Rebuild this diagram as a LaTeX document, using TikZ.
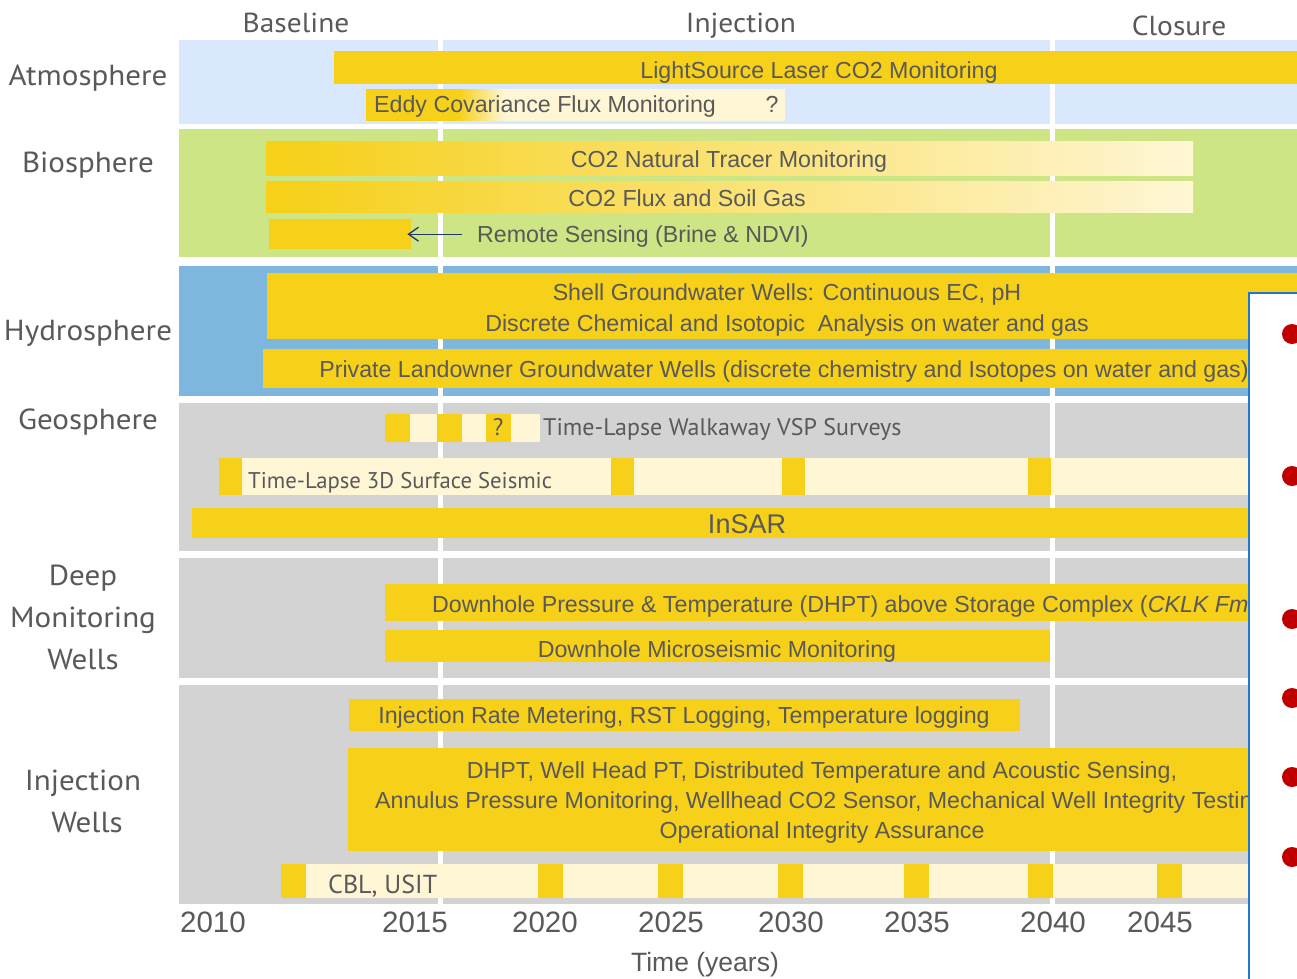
\documentclass[tikz,border=0pt]{standalone}
\usepackage{fontspec}
\setmainfont{Liberation Sans}
\newfontfamily\lab[FakeStretch=1.07]{PT Sans}
\newfontfamily\labn{PT Sans}
\usetikzlibrary{arrows.meta}
\definecolor{yel}{HTML}{F6D019}
\definecolor{cream}{HTML}{FFF6D5}
\definecolor{atm}{HTML}{D9E8FC}
\definecolor{bio}{HTML}{CDE585}
\definecolor{hyd}{HTML}{7FB6DE}
\definecolor{geo}{HTML}{D3D3D3}
\definecolor{txt}{HTML}{595959}
\definecolor{navy}{HTML}{1F3864}
\definecolor{boxblue}{HTML}{2277CC}
\definecolor{bul}{HTML}{C00000}
\pgfdeclarehorizontalshading{eddyshade}{100bp}{color(0bp)=(yel); color(36bp)=(yel); color(41.5bp)=(cream); color(100bp)=(cream)}
\pgfdeclarehorizontalshading{tracershade}{100bp}{color(0bp)=(yel); color(26bp)=(yel); color(75bp)=(cream); color(100bp)=(cream)}
\tikzset{
  bartxt/.style={font=\fontsize{23.2}{27}\selectfont, text=txt, inner sep=0pt},
  labtxt/.style={font=\lab\fontsize{29}{32}\selectfont, text=txt, inner sep=0pt, anchor=base},
  headtxt/.style={font=\lab\fontsize{27.5}{32}\selectfont, text=txt, inner sep=0pt, anchor=base},
  tltxt/.style={font=\labn\fontsize{24}{28}\selectfont, text=txt, inner sep=0pt, anchor=base west},
  axtxt/.style={font=\fontsize{29.5}{32}\selectfont, text=txt, inner sep=0pt, anchor=base},
  arrowline/.style={draw=navy, line width=1.3pt, -{Straight Barb[length=10pt,width=14pt]}},
}
\begin{document}
\begin{tikzpicture}[x=1pt,y=-1pt]
\useasboundingbox (0,0) rectangle (1297,978);
\clip (0,0) rectangle (1297,978);
\fill[white] (0,0) rectangle (1297,978);
% bands
\fill[atm] (179,40) rectangle (1297,124);
\fill[bio] (179,129) rectangle (1297,257);
\fill[hyd] (179,266) rectangle (1297,396);
\fill[geo] (179,403) rectangle (1297,551);
\fill[geo] (179,558) rectangle (1297,678);
\fill[geo] (179,685) rectangle (1297,904);
% phase dividers
\fill[white] (437.5,40) rectangle (442.5,905);
\fill[white] (1050,40) rectangle (1055,905);
% Atmosphere
\fill[yel] (334,51) rectangle (1297,84);
\shade[shading=eddyshade] (366,89) rectangle (785,120);
% Biosphere
\shade[shading=tracershade] (266,141) rectangle (1193,175);
\shade[shading=tracershade] (266,181) rectangle (1193,212);
\node[fill=yel, minimum width=142pt, minimum height=30pt, anchor=north west, inner sep=0pt] (rsbar) at (269,219) {};
% Hydrosphere
\fill[yel] (267,273) rectangle (1297,339);
\fill[yel] (263,349) rectangle (1297,388);
% Geosphere
\fill[cream] (385,414) rectangle (540,442);
\foreach \a in {385,437,486} \fill[yel] (\a,414) rectangle (\a+25,442);
\fill[cream] (219,458) rectangle (1297,495);
\foreach \a in {219,611,782,1028} \fill[yel] (\a,458) rectangle (\a+23,495);
\fill[yel] (192,508) rectangle (1297,538);
% Deep monitoring wells
\fill[yel] (385,584) rectangle (1297,621);
\fill[yel] (385,630) rectangle (1050,662);
% Injection wells
\fill[yel] (349,699) rectangle (1020,731);
\fill[yel] (348,748) rectangle (1297,851);
\fill[cream] (281,864) rectangle (1297,898);
\foreach \a in {281,538,658,778,904,1028,1157} \fill[yel] (\a,864) rectangle (\a+25,898);
% bar texts
\node[bartxt, anchor=base] (t1) at (819,78) {LightSource Laser CO2 Monitoring};
\node[bartxt, anchor=base west] (t2) at (374,112) {Eddy Covariance Flux Monitoring};
\node[bartxt, anchor=base] (t2q) at (772,112) {?};
\node[bartxt, anchor=base] (t3) at (729,167) {CO2 Natural Tracer Monitoring};
\node[bartxt, anchor=base] (t4) at (687,206) {CO2 Flux and Soil Gas};
\node[bartxt, anchor=base west] (rstxt) at (477,242) {Remote Sensing (Brine \& NDVI)};
\draw[arrowline, shorten <=15pt, shorten >=-4pt] (rstxt.west |- rsbar.east) -- (rsbar.east);
\node[bartxt, anchor=base] (t5a) at (787,300) {Shell Groundwater Wells: Continuous EC, pH};
\node[bartxt, anchor=base] (t5b) at (787,331) {Discrete Chemical and Isotopic\ \ Analysis on water and gas};
\node[bartxt, anchor=base] (t6) at (784,377) {Private Landowner Groundwater Wells (discrete chemistry and Isotopes on water and gas)};
\node[tltxt] (t7) at (543,435) {Time-Lapse Walkaway VSP Surveys};
\node[tltxt, anchor=base] (t7q) at (498,435) {?};
\node[tltxt, font=\labn\fontsize{22.7}{28}\selectfont] (t8) at (248,488) {Time-Lapse 3D Surface Seismic};
\node[bartxt, font=\fontsize{27}{30}\selectfont, anchor=base] (t9) at (747,533) {InSAR};
\node[bartxt, anchor=base west] (t10) at (432,612) {Downhole Pressure \& Temperature (DHPT) above Storage Complex (\textit{CKLK Fm})};
\node[bartxt, anchor=base] (t11) at (717,657) {Downhole Microseismic Monitoring};
\node[bartxt, anchor=base] (t12) at (684,723) {Injection Rate Metering, RST Logging, Temperature logging};
\node[bartxt, anchor=base] (t13a) at (822,778) {DHPT, Well Head PT, Distributed Temperature and Acoustic Sensing,};
\node[bartxt, anchor=base west] (t13b) at (375,808) {Annulus Pressure Monitoring, Wellhead CO2 Sensor, Mechanical Well Integrity Testing};
\node[bartxt, anchor=base] (t13c) at (822,838) {Operational Integrity Assurance};
\node[tltxt, font=\labn\fontsize{26}{28}\selectfont] (t14) at (328,893) {CBL, USIT};
% headers
\node[headtxt] (h1) at (296,32) {Baseline};
\node[headtxt] (h2) at (741,32) {Injection};
\node[headtxt] (h3) at (1179,35) {Closure};
% row labels
\node[labtxt] (l1) at (88,85) {Atmosphere};
\node[labtxt] (l2) at (88,172) {Biosphere};
\node[labtxt] (l3) at (88,340) {Hydrosphere};
\node[labtxt] (l4) at (88,429) {Geosphere};
\node[labtxt] (l5a) at (83,585) {Deep};
\node[labtxt] (l5b) at (83,627) {Monitoring};
\node[labtxt] (l5c) at (83,669) {Wells};
\node[labtxt] (l6a) at (83,790) {Injection};
\node[labtxt] (l6b) at (87,832) {Wells};
% axis
\node[axtxt] (y2010) at (213,932) {2010};
\node[axtxt] (y2015) at (415,932) {2015};
\node[axtxt] (y2020) at (545,932) {2020};
\node[axtxt] (y2025) at (671,932) {2025};
\node[axtxt] (y2030) at (791,932) {2030};
\node[axtxt] (y2035) at (917,932) {2035};
\node[axtxt] (y2040) at (1053,932) {2040};
\node[axtxt] (y2045) at (1160,932) {2045};
\node[axtxt, font=\fontsize{26.5}{30}\selectfont] (xlab) at (705,971) {Time (years)};
% overlapping text box
\filldraw[fill=white, draw=boxblue, line width=2pt] (1249,293) rectangle (1320,1000);
\foreach \b in {334,476,619,698,777,857} \fill[bul] (1292,\b) circle (10);
\end{tikzpicture}
\end{document}
